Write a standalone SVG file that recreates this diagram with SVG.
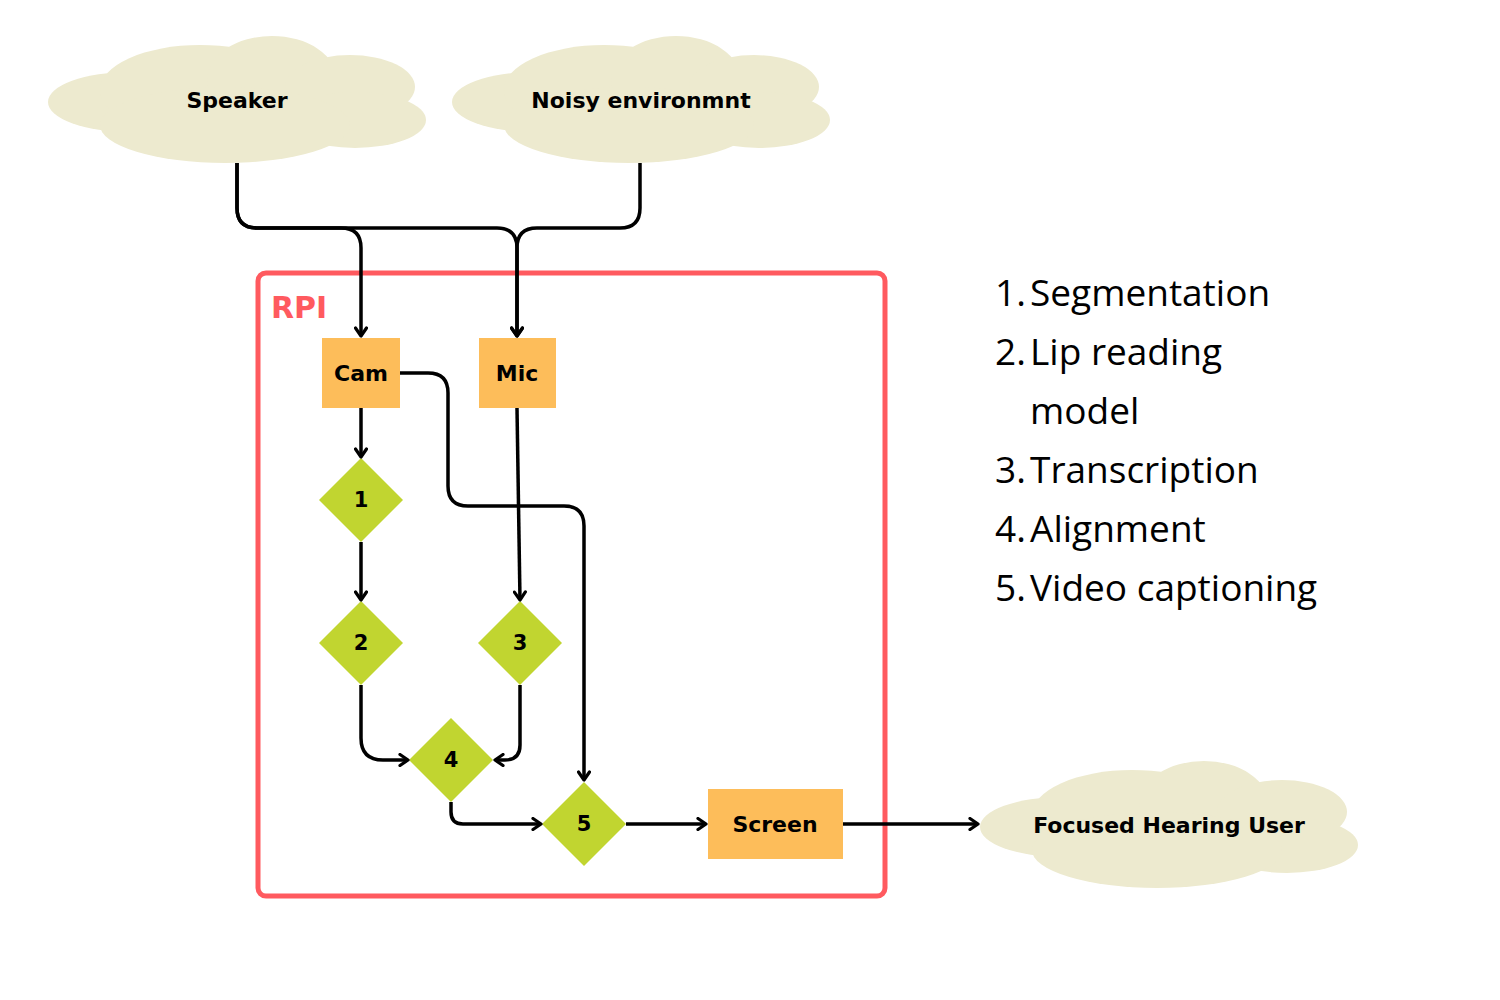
<svg xmlns="http://www.w3.org/2000/svg" width="1500" height="1000" viewBox="0 0 1500 1000">
<style>
.cloud{fill:#EDEACF}
.box{fill:#FDBD5A}
.dia{fill:#C1D530}
.lbl{font-family:"DejaVu Sans",sans-serif;font-weight:bold;font-size:22px;fill:#000;text-anchor:middle;dominant-baseline:central}
.num{font-family:"DejaVu Sans",sans-serif;font-weight:bold;font-size:21px;fill:#000;text-anchor:middle;dominant-baseline:central}
.edge{fill:none;stroke:#000;stroke-width:3.5;stroke-linejoin:round}
.list{font-family:"Open Sans",sans-serif;font-size:37px;fill:#000}
</style>
<defs>
<marker id="arr" viewBox="0 0 14 14" refX="12" refY="7" markerWidth="14" markerHeight="14" markerUnits="userSpaceOnUse" orient="auto">
<path d="M4,1.5 L12,7 L4,12.5" fill="none" stroke="#000" stroke-width="3.2" stroke-linecap="round" stroke-linejoin="round"/>
</marker>
<g id="cloudShape">
<ellipse cx="82" cy="66" rx="82" ry="30"/>
<ellipse cx="152" cy="54" rx="100" ry="45"/>
<ellipse cx="224" cy="44" rx="65" ry="44"/>
<ellipse cx="302" cy="51" rx="65" ry="32"/>
<ellipse cx="307" cy="84" rx="71" ry="28"/>
<ellipse cx="177" cy="89" rx="125" ry="38"/>
</g>
</defs>
<rect width="1500" height="1000" fill="#fff"/>

<g id="rpi">
<rect x="258" y="273" width="627" height="623" rx="8" fill="none" stroke="#FF5A5F" stroke-width="5"/>
<text x="271" y="318" font-family="DejaVu Sans,sans-serif" font-weight="bold" font-size="30" fill="#FF5A5F">RPI</text>
</g>

<g id="speaker">
<use href="#cloudShape" class="cloud" transform="translate(48,36)"/>
<text class="lbl" x="237" y="100">Speaker</text>
</g>
<g id="noisy">
<use href="#cloudShape" class="cloud" transform="translate(452,36)"/>
<text class="lbl" x="641" y="100">Noisy environmnt</text>
</g>
<g id="user">
<use href="#cloudShape" class="cloud" transform="translate(980,761)"/>
<text class="lbl" x="1169" y="825">Focused Hearing User</text>
</g>

<g id="cam"><rect class="box" x="322" y="338" width="78" height="70"/><text class="lbl" x="361" y="373">Cam</text></g>
<g id="mic"><rect class="box" x="479" y="338" width="77" height="70"/><text class="lbl" x="517" y="373">Mic</text></g>
<g id="screen"><rect class="box" x="708" y="789" width="135" height="70"/><text class="lbl" x="775" y="824">Screen</text></g>

<g id="n1"><polygon class="dia" points="361,458 403,500 361,542 319,500"/><text class="num" x="361" y="500">1</text></g>
<g id="n2"><polygon class="dia" points="361,601 403,643 361,685 319,643"/><text class="num" x="361" y="643">2</text></g>
<g id="n3"><polygon class="dia" points="520,601 562,643 520,685 478,643"/><text class="num" x="520" y="643">3</text></g>
<g id="n4"><polygon class="dia" points="451,718 493,760 451,802 409,760"/><text class="num" x="451" y="760">4</text></g>
<g id="n5"><polygon class="dia" points="584,782 626,824 584,866 542,824"/><text class="num" x="584" y="824">5</text></g>

<g id="connectors">
<path class="edge" marker-end="url(#arr)" d="M237,163 V208 Q237,228 257,228 H341 Q361,228 361,248 V336"/>
<path class="edge" marker-end="url(#arr)" d="M237,163 V208 Q237,228 257,228 H497 Q517,228 517,248 V336"/>
<path class="edge" marker-end="url(#arr)" d="M640,163 V208 Q640,228 620,228 H537 Q517,228 517,248 V336"/>
<path class="edge" marker-end="url(#arr)" d="M361,408 V457"/>
<path class="edge" marker-end="url(#arr)" d="M400,373 H428 Q448,373 448,393 V486 Q448,506 468,506 H564 Q584,506 584,526 V780"/>
<path class="edge" marker-end="url(#arr)" d="M517,408 L520,600"/>
<path class="edge" marker-end="url(#arr)" d="M361,542 V600"/>
<path class="edge" marker-end="url(#arr)" d="M361,685 V738 Q361,760 383,760 H408"/>
<path class="edge" marker-end="url(#arr)" d="M520,685 V745 Q520,760 505,760 H495"/>
<path class="edge" marker-end="url(#arr)" d="M451,802 V812 Q451,824 463,824 H541"/>
<path class="edge" marker-end="url(#arr)" d="M626,824 H706"/>
<path class="edge" marker-end="url(#arr)" d="M843,824 H978"/>
</g>

<g id="legend" class="list">
<text x="995" y="306">1.</text><text x="1030" y="306">Segmentation</text>
<text x="995" y="365">2.</text><text x="1030" y="365">Lip reading</text>
<text x="1030" y="424">model</text>
<text x="995" y="483">3.</text><text x="1030" y="483">Transcription</text>
<text x="995" y="542">4.</text><text x="1030" y="542">Alignment</text>
<text x="995" y="601">5.</text><text x="1030" y="601">Video captioning</text>
</g>
</svg>
